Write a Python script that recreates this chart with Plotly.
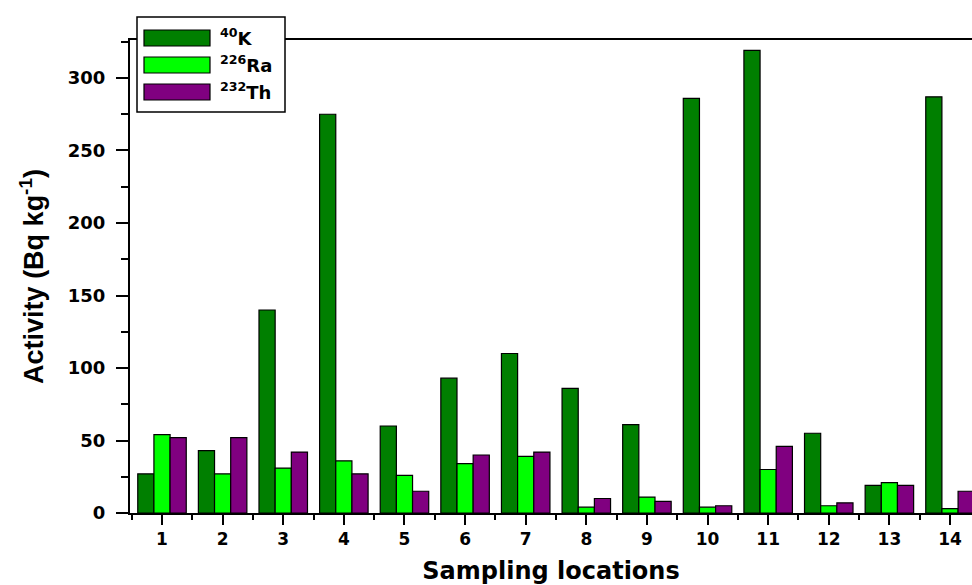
import plotly.graph_objects as go

locations = list(range(1, 15))
k40 = [27, 43, 140, 275, 60, 93, 110, 86, 61, 286, 319, 55, 19, 287]
ra226 = [54, 27, 31, 36, 26, 34, 39, 4, 11, 4, 30, 5, 21, 3]
th232 = [52, 52, 42, 27, 15, 40, 42, 10, 8, 5, 46, 7, 19, 15]
series_names = ["<sup>40</sup>K", "<sup>226</sup>Ra", "<sup>232</sup>Th"]
colors = ["#007F00", "#00FF00", "#800080"]

fig = go.Figure()
for name, vals, c in zip(series_names, [k40, ra226, th232], colors):
    fig.add_trace(go.Bar(x=locations, y=vals, name=name, marker_color=c,
                         marker_line=dict(color="black", width=1.2), showlegend=False))

wide = "DejaVu Sans, Liberation Sans, sans-serif"
L, T, B = 130, 40, 72
fig.update_layout(
    width=972, height=585,
    margin=dict(l=L, r=0, t=T, b=B),
    paper_bgcolor="white", plot_bgcolor="white",
    barmode="group", bargap=0.2, bargroupgap=0,
    font=dict(family=wide, color="black"),
)
fig.update_xaxes(
    range=[0.472, 14.363], tickmode="linear", tick0=1, dtick=1,
    showgrid=False, zeroline=False, showline=True, linecolor="black", linewidth=2,
    mirror=True, ticks="outside", ticklen=10, tickwidth=1.5, tickcolor="black",
    ticklabelstandoff=0, automargin=False,
    tickfont=dict(size=17, family=wide, weight="bold"),
    minor=dict(tick0=0.5, dtick=1, ticks="outside", ticklen=5, tickwidth=1.5, tickcolor="black"),
    title=dict(text="<b>Sampling locations</b>", font=dict(size=24, family=wide), standoff=21),
)
fig.update_yaxes(
    range=[0, 326.2], tickmode="linear", tick0=0, dtick=50,
    showgrid=False, zeroline=False, showline=True, linecolor="black", linewidth=2,
    ticks="outside", ticklen=12, tickwidth=1.5, tickcolor="black",
    ticklabelstandoff=7, automargin=False,
    tickfont=dict(size=18, family=wide, weight="bold"),
    minor=dict(dtick=25, ticks="outside", ticklen=7, tickwidth=1.5, tickcolor="black"),
    title=dict(text="<b>Activity (Bq kg<sup>-1</sup>)</b>",
               font=dict(size=27, family="Liberation Sans, Arial, sans-serif"),
               standoff=16),
)

# Custom legend box (paper coordinates)
pw, ph = 972 - L, 585 - T - B
def px(x):
    return (x - L) / pw
def py(y):
    return (585 - B - y) / ph

fig.add_shape(type="rect", xref="paper", yref="paper",
              x0=px(137), x1=px(285), y0=py(112), y1=py(17),
              line=dict(color="black", width=1.5), fillcolor="white", layer="above")
rows = [38, 65, 92]
for (name, c, yc) in zip(series_names, colors, rows):
    fig.add_shape(type="rect", xref="paper", yref="paper",
                  x0=px(144), x1=px(210), y0=py(yc + 8), y1=py(yc - 8),
                  line=dict(color="black", width=1.2), fillcolor=c, layer="above")
    fig.add_annotation(xref="paper", yref="paper", x=px(218), y=py(yc - 1), text="<b>" + name + "</b>",
                       showarrow=False, xanchor="left", yanchor="middle",
                       font=dict(size=18, family=wide, color="black"))

fig.write_html("out.html", config={"displayModeBar": False},
               post_script="document.body.style.margin='0';")
